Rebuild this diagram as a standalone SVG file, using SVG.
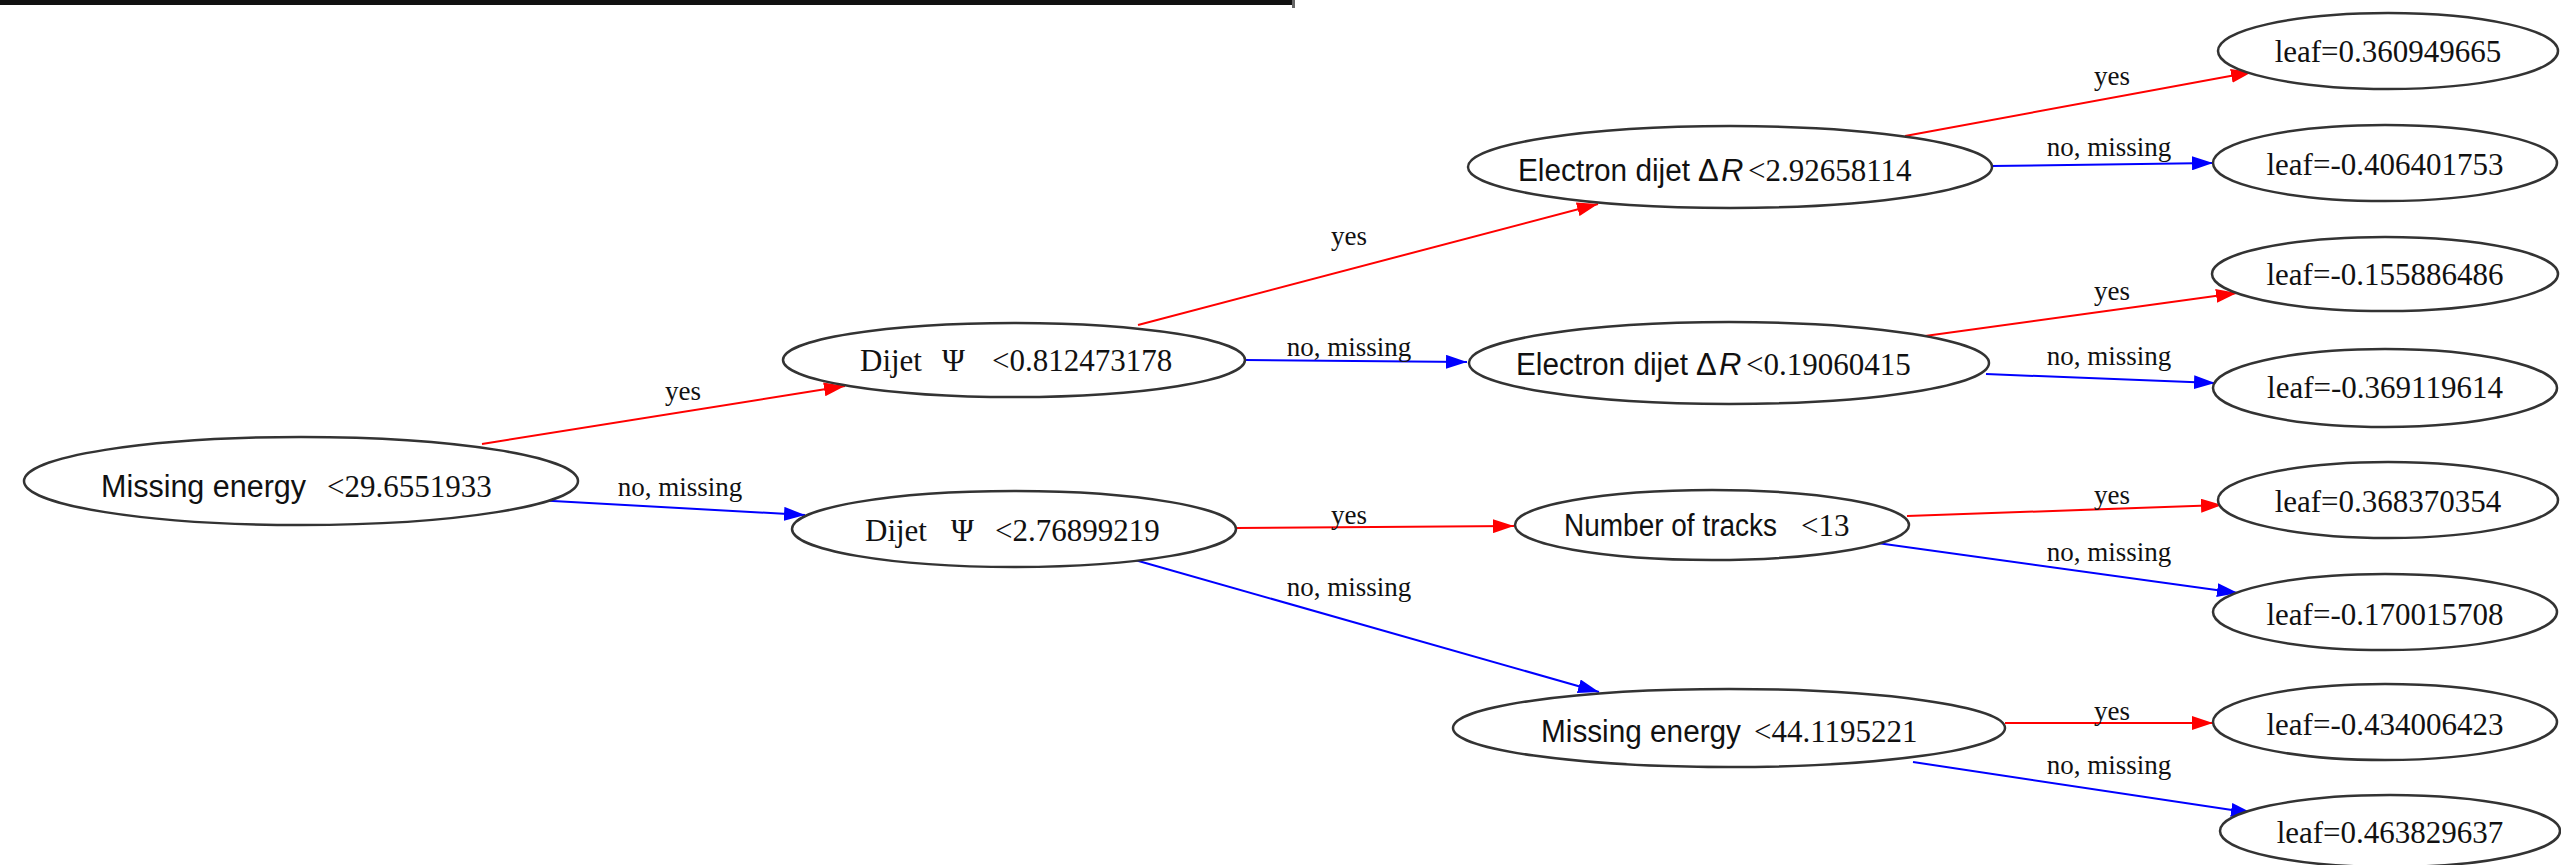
<svg xmlns="http://www.w3.org/2000/svg" width="2561" height="865" viewBox="0 0 2561 865">
<style>
.nd{fill:#fff;stroke:#333;stroke-width:2.5}
.sans{font-family:"Liberation Sans",Arial,sans-serif;font-size:31px;fill:#111}
.serif{font-family:"Liberation Serif","Times New Roman",serif;font-size:31px;fill:#111}
.lbl{font-family:"Liberation Serif","Times New Roman",serif;font-size:27px;fill:#111;text-anchor:middle}
.leaf{font-family:"Liberation Serif","Times New Roman",serif;font-size:31px;fill:#111;text-anchor:middle}
.yes{stroke:#ff0000;stroke-width:2;fill:none;marker-end:url(#ar)}
.no{stroke:#0000ff;stroke-width:2;fill:none;marker-end:url(#ab)}
</style>
<defs>
<marker id="ar" markerUnits="userSpaceOnUse" markerWidth="22" markerHeight="14" refX="21" refY="7" orient="auto"><path d="M0,0 L21,7 L0,14 z" fill="#ff0000"/></marker>
<marker id="ab" markerUnits="userSpaceOnUse" markerWidth="22" markerHeight="14" refX="21" refY="7" orient="auto"><path d="M0,0 L21,7 L0,14 z" fill="#0000ff"/></marker>
</defs>
<rect x="0" y="0" width="1295" height="5" fill="#111"/>
<rect x="1292" y="0" width="3" height="8" fill="#666"/>
<g id="connectors">
<line class="yes" x1="482" y1="444" x2="845" y2="386"/>
<line class="no" x1="535" y1="500" x2="805" y2="515"/>
<line class="yes" x1="1138" y1="325" x2="1598" y2="204"/>
<line class="no" x1="1245" y1="360" x2="1467" y2="362"/>
<line class="yes" x1="1236" y1="528" x2="1514" y2="526"/>
<line class="no" x1="1135" y1="560" x2="1599" y2="692"/>
<line class="yes" x1="1905" y1="136" x2="2252" y2="72"/>
<line class="no" x1="1991" y1="166" x2="2213" y2="163"/>
<line class="yes" x1="1925" y1="336" x2="2237" y2="293"/>
<line class="no" x1="1986" y1="374" x2="2215" y2="383"/>
<line class="yes" x1="1907" y1="516" x2="2222" y2="505"/>
<line class="no" x1="1870" y1="542" x2="2238" y2="593"/>
<line class="yes" x1="2005" y1="723" x2="2213" y2="723"/>
<line class="no" x1="1913" y1="762" x2="2252" y2="813"/>
<text class="lbl" x="683" y="400">yes</text>
<text class="lbl" x="680" y="496">no, missing</text>
<text class="lbl" x="1349" y="245">yes</text>
<text class="lbl" x="1349" y="356">no, missing</text>
<text class="lbl" x="1349" y="524">yes</text>
<text class="lbl" x="1349" y="596">no, missing</text>
<text class="lbl" x="2112" y="85">yes</text>
<text class="lbl" x="2109" y="156">no, missing</text>
<text class="lbl" x="2112" y="300">yes</text>
<text class="lbl" x="2109" y="365">no, missing</text>
<text class="lbl" x="2112" y="504">yes</text>
<text class="lbl" x="2109" y="561">no, missing</text>
<text class="lbl" x="2112" y="720">yes</text>
<text class="lbl" x="2109" y="774">no, missing</text>
</g>
<g id="n0"><ellipse class="nd" cx="301" cy="481" rx="277" ry="44"/>
<text y="497"><tspan class="sans" x="101" textLength="205" lengthAdjust="spacingAndGlyphs">Missing energy</tspan><tspan class="serif" x="327">&lt;29.6551933</tspan></text></g>
<g id="n1"><ellipse class="nd" cx="1014" cy="360" rx="231" ry="37"/>
<text y="371"><tspan class="serif" x="860">Dijet</tspan><tspan class="serif" x="942">Ψ</tspan><tspan class="serif" x="992">&lt;0.812473178</tspan></text></g>
<g id="n2"><ellipse class="nd" cx="1014" cy="529" rx="222" ry="38"/>
<text y="541"><tspan class="serif" x="865">Dijet</tspan><tspan class="serif" x="951">Ψ</tspan><tspan class="serif" x="995">&lt;2.76899219</tspan></text></g>
<g id="n3"><ellipse class="nd" cx="1730" cy="167" rx="262" ry="41"/>
<text y="181"><tspan class="sans" x="1518" textLength="172" lengthAdjust="spacingAndGlyphs">Electron dijet</tspan><tspan class="sans" x="1698">Δ</tspan><tspan class="sans" x="1721" font-style="italic">R</tspan><tspan class="serif" x="1748">&lt;2.92658114</tspan></text></g>
<g id="n4"><ellipse class="nd" cx="1729" cy="363" rx="260" ry="41"/>
<text y="375"><tspan class="sans" x="1516" textLength="172" lengthAdjust="spacingAndGlyphs">Electron dijet</tspan><tspan class="sans" x="1696">Δ</tspan><tspan class="sans" x="1719" font-style="italic">R</tspan><tspan class="serif" x="1746">&lt;0.19060415</tspan></text></g>
<g id="n5"><ellipse class="nd" cx="1712" cy="525" rx="197" ry="35"/>
<text y="536"><tspan class="sans" x="1564" textLength="213" lengthAdjust="spacingAndGlyphs">Number of tracks</tspan><tspan class="serif" x="1801">&lt;13</tspan></text></g>
<g id="n6"><ellipse class="nd" cx="1729" cy="728" rx="276" ry="39"/>
<text y="742"><tspan class="sans" x="1541" textLength="200" lengthAdjust="spacingAndGlyphs">Missing energy</tspan><tspan class="serif" x="1754">&lt;44.1195221</tspan></text></g>
<g id="l1"><ellipse class="nd" cx="2388" cy="51" rx="170" ry="38"/><text class="leaf" x="2388" y="62">leaf=0.360949665</text></g>
<g id="l2"><ellipse class="nd" cx="2385" cy="163" rx="172" ry="38"/><text class="leaf" x="2385" y="175">leaf=-0.406401753</text></g>
<g id="l3"><ellipse class="nd" cx="2385" cy="274" rx="173" ry="37"/><text class="leaf" x="2385" y="285">leaf=-0.155886486</text></g>
<g id="l4"><ellipse class="nd" cx="2385" cy="388" rx="172" ry="39"/><text class="leaf" x="2385" y="398">leaf=-0.369119614</text></g>
<g id="l5"><ellipse class="nd" cx="2388" cy="500" rx="170" ry="38"/><text class="leaf" x="2388" y="512">leaf=0.368370354</text></g>
<g id="l6"><ellipse class="nd" cx="2385" cy="612" rx="172" ry="38"/><text class="leaf" x="2385" y="625">leaf=-0.170015708</text></g>
<g id="l7"><ellipse class="nd" cx="2385" cy="722" rx="172" ry="38"/><text class="leaf" x="2385" y="735">leaf=-0.434006423</text></g>
<g id="l8"><ellipse class="nd" cx="2390" cy="831" rx="170" ry="36"/><text class="leaf" x="2390" y="843">leaf=0.463829637</text></g>
</svg>
